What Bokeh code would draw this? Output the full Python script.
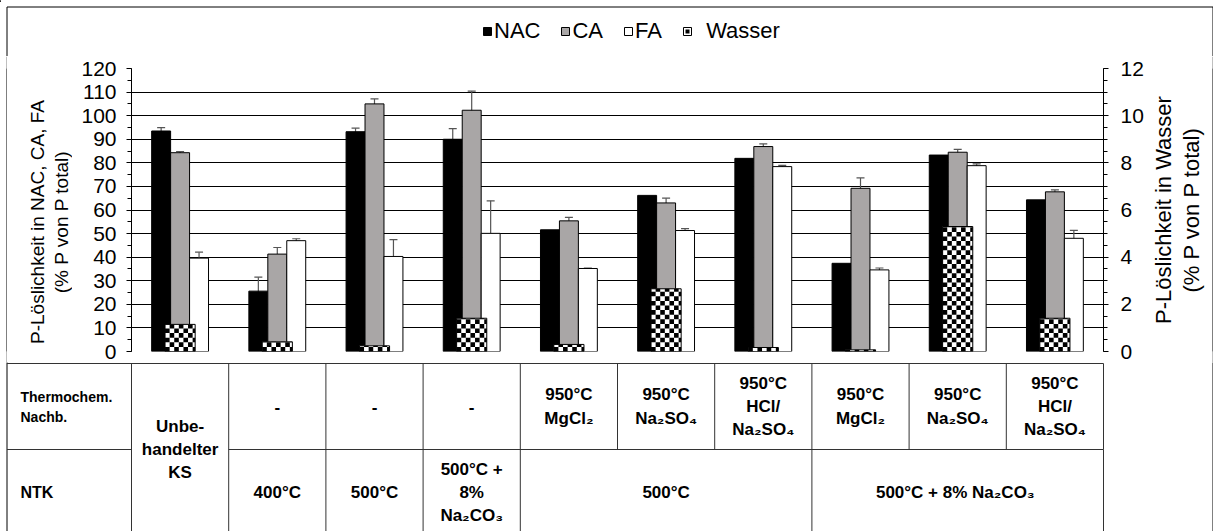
import math
from bokeh.plotting import figure
from bokeh.models import (ColumnDataSource, Range1d, LinearAxis, SingleIntervalTicker,
                          Whisker, TeeHead, Legend, LegendItem, Spacer)
from bokeh.layouts import row
from bokeh.core.properties import value
from bokeh.transform import dodge
from bokeh.embed import file_html
from bokeh.resources import INLINE

# ---------------- data ----------------
groups = list(range(10))
nac = [93.5, 25.6, 93.2, 90.0, 51.6, 66.2, 81.9, 37.4, 83.3, 64.3]
nac_err = [1.4, 5.9, 1.5, 4.5, 0, 0, 0, 0, 0, 0]
ca = [84.3, 41.3, 105.0, 102.3, 55.4, 63.0, 86.9, 69.2, 84.5, 67.7]
ca_err = [0.5, 2.8, 2.1, 8.1, 1.5, 2.0, 1.1, 4.4, 1.2, 0.8]
fa = [39.6, 47.0, 40.3, 50.1, 35.2, 51.3, 78.4, 34.6, 78.8, 48.0]
fa_err = [2.5, 0.8, 7.1, 13.8, 0.2, 0.8, 0.5, 0.8, 0.8, 3.4]
wasser = [1.15, 0.41, 0.24, 1.41, 0.30, 2.66, 0.17, 0.07, 5.30, 1.41]

series_labels = ["NAC", "CA", "FA", "Wasser"]
left_title = "P-Löslichkeit in NAC, CA, FA\n(% P von P total)"
right_title = "P-Löslichkeit in Wasser\n(% P von P total)"

row1_label = "Thermochem.\nNachb."
row2_label = "NTK"
both_rows = [(0, "Unbe-\nhandelter\nKS")]
row1_cells = [(1, 1, "-"), (2, 2, "-"), (3, 3, "-"),
              (4, 4, "950°C\nMgCl₂"), (5, 5, "950°C\nNa₂SO₄"), (6, 6, "950°C\nHCl/\nNa₂SO₄"),
              (7, 7, "950°C\nMgCl₂"), (8, 8, "950°C\nNa₂SO₄"), (9, 9, "950°C\nHCl/\nNa₂SO₄")]
row2_cells = [(1, 1, "400°C"), (2, 2, "500°C"), (3, 3, "500°C +\n8%\nNa₂CO₃"),
              (4, 6, "500°C"), (7, 9, "500°C + 8%  Na₂CO₃")]

# ---------------- layout (pixels) ----------------
W = 1213
BORDER_L = 6                   # outer frame: left / top line
BORDER_R = W - 1               # outer frame: right line
H_LEG, H_TOP = 56, 306
H_TAB = 531 - H_LEG - H_TOP
FT, FB = 12, 11
FRAME_L, FRAME_W = 131, 972
LT_W = 65
P_X = BORDER_L + 1 + LT_W
FL = FRAME_L - P_X
RT_W = 60
P_W = BORDER_R - RT_W - P_X
FR = P_W - FL - FRAME_W
FRAME_H = H_TOP - FT - FB
FONT = "Liberation Sans"
BW = 0.195
WW = 0.31
ROW_H = 86
CELL_PX = 4.6
TXT = "black"

def bare(fig):
    fig.grid.visible = False
    fig.outline_line_color = None
    fig.background_fill_color = None
    fig.border_fill_color = None

def black_line(h):
    f = figure(width=1, height=h, output_backend="svg", toolbar_location=None,
               x_axis_location=None, y_axis_location=None, min_border=0)
    f.grid.visible = False
    f.outline_line_color = None
    f.background_fill_color = "black"
    f.border_fill_color = "black"
    return f

# ---- legend strip ----
lg = figure(width=W, height=H_LEG, output_backend="svg", toolbar_location=None,
            x_range=Range1d(0, W), y_range=Range1d(H_LEG, 0),
            x_axis_location=None, y_axis_location=None, min_border=0)
bare(lg)
bl, br = BORDER_L + 0.5, BORDER_R + 0.5
lg.segment(x0=[bl, bl, br], y0=[bl, bl, bl], x1=[br, bl, br], y1=[bl, H_LEG, H_LEG],
           line_color="black", line_width=1)
off = [-1000]  # swatch-only renderers, kept outside the visible range
d_nac = lg.vbar(x=off, top=[1], width=1, fill_color="black", line_color="black")
d_ca = lg.vbar(x=off, top=[1], width=1, fill_color="#A9A6A6", line_color="black")
d_fa = lg.vbar(x=off, top=[1], width=1, fill_color="white", line_color="black")
d_wb = lg.vbar(x=off, top=[1], width=1, fill_color="white", line_color="black")
d_wd = lg.scatter(x=off, y=[1], marker="square", size=5, fill_color="black", line_color=None)
legend = Legend(items=[LegendItem(label=series_labels[0], renderers=[d_nac]),
                       LegendItem(label=series_labels[1], renderers=[d_ca]),
                       LegendItem(label=series_labels[2], renderers=[d_fa]),
                       LegendItem(label="\u00a0\u00a0" + series_labels[3], renderers=[d_wb, d_wd])],
                orientation="horizontal", location=(482, 12),
                glyph_width=10, glyph_height=10, label_standoff=2, spacing=20,
                padding=0, margin=0, border_line_color=None, background_fill_alpha=0,
                label_text_font=FONT, label_text_font_size="22px", label_height=20,
                label_text_color=TXT)
lg.add_layout(legend)

# ---- chart ----
p = figure(width=P_W, height=H_TOP, output_backend="svg", toolbar_location=None,
           x_range=Range1d(-0.5, 9.5), y_range=Range1d(0, 120),
           min_border_left=FL, min_border_right=FR, min_border_top=FT, min_border_bottom=FB)
p.extra_y_ranges = {"w": Range1d(0, 12)}
p.xaxis.visible = False
p.outline_line_color = None
p.xgrid.visible = False
p.border_fill_color = None

left_ticker = SingleIntervalTicker(interval=10, num_minor_ticks=2)
p.yaxis.ticker = left_ticker
p.ygrid.ticker = left_ticker
p.ygrid.grid_line_color = "black"
p.ygrid.grid_line_width = 1

src = ColumnDataSource(dict(x=groups, nac=nac, ca=ca, fa=fa, w=wasser))
p.vbar(x=dodge("x", -BW), top="nac", width=BW, bottom=0, source=src,
       fill_color="black", line_color="black", line_width=1)
p.vbar(x="x", top="ca", width=BW, bottom=0, source=src,
       fill_color="#A9A6A6", line_color="black", line_width=1)
p.vbar(x=dodge("x", BW), top="fa", width=BW, bottom=0, source=src,
       fill_color="white", line_color="black", line_width=1)

# Wasser bars (secondary axis) with a checkerboard fill built from the bar heights
p.vbar(x="x", top="w", width=WW, bottom=0, source=src, y_range_name="w",
       fill_color="white", line_color=None)
cell_x = CELL_PX / (FRAME_W / 10.0)
cell_y = CELL_PX / (FRAME_H / 12.0)
ql, qr, qb, qt = [], [], [], []
for g, v in zip(groups, wasser):
    x0 = g - WW / 2
    ncol = int(math.ceil(WW / cell_x))
    nrow = int(math.ceil(v / cell_y))
    for r in range(nrow):
        for c in range(ncol):
            if (r + c) % 2 == 0:
                ql.append(x0 + c * cell_x)
                qr.append(min(x0 + (c + 1) * cell_x, x0 + WW))
                qb.append(r * cell_y)
                qt.append(min((r + 1) * cell_y, v))
p.quad(left=ql, right=qr, bottom=qb, top=qt, y_range_name="w",
       fill_color="black", line_color=None)
p.vbar(x="x", top="w", width=WW, bottom=0, source=src, y_range_name="w",
       fill_color=None, line_color="black", line_width=1)

ERR_COLOR = "#555555"
for vals, errs, offx in [(nac, nac_err, -BW), (ca, ca_err, 0.0), (fa, fa_err, BW)]:
    xs, lo, hi = [], [], []
    for g, v, e in zip(groups, vals, errs):
        if e > 0:
            xs.append(g)
            lo.append(v - e)
            hi.append(v + e)
    es = ColumnDataSource(dict(x=xs, lo=lo, hi=hi))
    p.add_layout(Whisker(base=dodge("x", offx), lower="lo", upper="hi", source=es,
                         line_color=ERR_COLOR, line_width=1.2,
                         upper_head=TeeHead(size=8, line_color=ERR_COLOR, line_width=1.2),
                         lower_head=TeeHead(size=8, line_color=ERR_COLOR, line_width=1.2)))

def style_axis(ax, standoff):
    ax.axis_line_color = "black"
    ax.axis_line_width = 1
    ax.major_tick_line_color = "black"
    ax.minor_tick_line_color = "black"
    ax.major_tick_out = 5
    ax.major_tick_in = 0
    ax.minor_tick_out = 4
    ax.minor_tick_in = 0
    ax.major_label_text_font = FONT
    ax.major_label_text_font_size = "21px"
    ax.major_label_text_color = TXT
    ax.major_label_standoff = standoff

style_axis(p.yaxis[0], 10)
ry = LinearAxis(y_range_name="w", ticker=SingleIntervalTicker(interval=2, num_minor_ticks=4))
style_axis(ry, 12)
p.add_layout(ry, "right")

# axis titles (both read bottom-to-top), in narrow strips beside the chart
lt = figure(width=LT_W, height=H_TOP, output_backend="svg", toolbar_location=None,
            x_range=Range1d(0, LT_W), y_range=Range1d(0, FRAME_H),
            x_axis_location=None, y_axis_location=None,
            min_border_left=0, min_border_right=0, min_border_top=FT, min_border_bottom=FB)
bare(lt)
lt.text(x=[49 - P_X + LT_W], y=[FRAME_H / 2 - 12], text=[left_title], angle=math.pi / 2,
        text_font=value(FONT), text_font_size="19px", text_align="center",
        text_baseline="middle", text_line_height=1.15, text_color=TXT)

rt = figure(width=RT_W, height=H_TOP, output_backend="svg", toolbar_location=None,
            x_range=Range1d(0, RT_W), y_range=Range1d(0, FRAME_H),
            x_axis_location=None, y_axis_location=None,
            min_border_left=0, min_border_right=0, min_border_top=FT, min_border_bottom=FB)
bare(rt)
rt.text(x=[25], y=[FRAME_H / 2], text=[right_title], angle=math.pi / 2,
        text_font=value(FONT), text_font_size="22px", text_align="center",
        text_baseline="middle", text_line_height=1.1, text_color=TXT)

band = row(Spacer(width=BORDER_L, height=H_TOP), black_line(H_TOP), lt, p, rt,
           black_line(H_TOP), spacing=0)

# ---- table ----
px_per_unit = FRAME_W / 10.0
xl = -0.5 - FRAME_L / px_per_unit
xr = xl + W / px_per_unit
xb = xl + bl / px_per_unit
xe = xl + br / px_per_unit
t = figure(width=W, height=H_TAB, output_backend="svg", toolbar_location=None,
           x_range=Range1d(xl, xr), y_range=Range1d(-(H_TAB - 1), 1),
           x_axis_location=None, y_axis_location=None, min_border=0)
bare(t)

bottom = -(H_TAB + 20)
t.segment(x0=[xb, xe], y0=[2, 2], x1=[xb, xe], y1=[bottom, bottom],
          line_color="black", line_width=1)

x0s, y0s, x1s, y1s = [], [], [], []
def seg(a, b, c, d):
    x0s.append(a); y0s.append(b); x1s.append(c); y1s.append(d)

seg(xb, 0, 9.5, 0)
seg(xb, -ROW_H, -0.5, -ROW_H)
seg(0.5, -ROW_H, 9.5, -ROW_H)
for g, _ in both_rows:
    seg(g - 0.5, 0, g - 0.5, bottom)
    seg(g + 0.5, 0, g + 0.5, bottom)
for a, b, _ in row1_cells:
    seg(b + 0.5, 0, b + 0.5, -ROW_H)
for a, b, _ in row2_cells:
    seg(b + 0.5, -ROW_H, b + 0.5, bottom)
t.segment(x0=x0s, y0=y0s, x1=x1s, y1=y1s, line_color="#333333", line_width=1)

cx, cy, ct = [], [], []
for g, txt in both_rows:
    cx.append(g); cy.append(-ROW_H); ct.append(txt)
for a, b, txt in row1_cells:
    cx.append((a + b) / 2); cy.append(-ROW_H / 2); ct.append(txt)
for a, b, txt in row2_cells:
    cx.append((a + b) / 2); cy.append(-1.5 * ROW_H); ct.append(txt)
t.text(x=cx, y=cy, text=ct, text_font=value(FONT), text_font_style="bold",
       text_font_size="17px", text_align="center", text_baseline="middle",
       text_line_height=1.22, text_color=TXT)

lx = xl + 20 / px_per_unit
t.text(x=[lx], y=[-ROW_H / 2], text=[row1_label], text_font=value(FONT), text_font_style="bold",
       text_font_size="14px", text_align="left", text_baseline="middle",
       text_line_height=1.25, text_color=TXT)
t.text(x=[lx], y=[-1.5 * ROW_H], text=[row2_label], text_font=value(FONT), text_font_style="bold",
       text_font_size="16px", text_align="left", text_baseline="middle", text_color=TXT)

open("out.html", "w").write(file_html([lg, band, t], INLINE))
